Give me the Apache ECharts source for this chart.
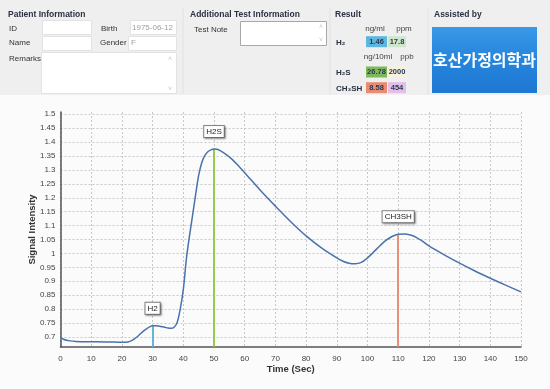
<!DOCTYPE html>
<html>
<head>
<meta charset="utf-8">
<script src="https://cdn.jsdelivr.net/npm/echarts@6/dist/echarts.min.js"></script>
<style>
html,body{margin:0;padding:0;background:#f7f7f7;}
#c{width:550px;height:389px;}
</style>
</head>
<body>
<div id="c"></div>
<script>
// ---- data ----
var timeSec = [0,1,2,3,5,8,12,16,20,22,23,24,25,26,27,28,29,30,31,32,33,34,35,36,37,38,39,40,41,42,43,44,45,46,47,48,49,50,51,52,54,56,58,60,65,70,75,80,85,90,92,94,96,98,100,102,104,106,108,110,112,114,116,118,120,125,130,135,140,145,150];
var signal = [0.698,0.692,0.688,0.686,0.684,0.683,0.683,0.682,0.681,0.682,0.686,0.692,0.701,0.711,0.721,0.729,0.736,0.740,0.740,0.739,0.737,0.735,0.732,0.731,0.735,0.752,0.800,0.870,0.980,1.062,1.135,1.210,1.280,1.326,1.351,1.365,1.372,1.375,1.374,1.369,1.355,1.337,1.314,1.290,1.228,1.170,1.114,1.063,1.020,0.984,0.972,0.965,0.963,0.968,0.984,1.005,1.027,1.047,1.061,1.069,1.070,1.066,1.057,1.043,1.027,0.995,0.965,0.937,0.911,0.886,0.862];
var peakNames = ['H2','H2S','CH3SH'];
var peakTimes = [30,50,110];
var peakValues = [0.740,1.375,1.069];
var peakColors = ['#5aaed6','#8cc63f','#e8856d'];
var yTicks = [0.7,0.75,0.8,0.85,0.9,0.95,1,1.05,1.1,1.15,1.2,1.25,1.3,1.35,1.4,1.45,1.5];
var yMin = 0.664, yMax = 1.508;

// header data
var resultRows = [
  {name:'H₂', v1:'1.46', v2:'17.8', c1:'#5cb6de', c2:'#cfe6cc'},
  {name:'H₂S', v1:'26.78', v2:'2000', c1:'#7fba59', c2:'#f8f1dc'},
  {name:'CH₃SH', v1:'8.58', v2:'454', c1:'#ea8a6f', c2:'#e4bde9'}
];

var F = "'Liberation Sans',Arial,sans-serif";

function txt(x,y,s,opt){
  opt = opt||{};
  return {type:'text', x:x, y:y, silent:true, style:{text:s, fill:opt.fill||'#333', font:(opt.bold?'bold ':'')+(opt.size||8)+'px '+(opt.family||F), textAlign:opt.align||'left', textVerticalAlign:'middle'}};
}
function box(x,y,w,h,fill,stroke){
  return {type:'rect', silent:true, shape:{x:x,y:y,width:w,height:h}, style:{fill:fill, stroke:stroke||'none', lineWidth:1}};
}

var g = [];
g.push(box(0,0,550,95,'#efefef'));
g.push(box(0,95,550,294,'#fbfbfb'));
// section separators
g.push({type:'line',silent:true,shape:{x1:183,y1:8,x2:183,y2:94},style:{stroke:'#e2e2e2'}});
g.push({type:'line',silent:true,shape:{x1:330,y1:8,x2:330,y2:94},style:{stroke:'#e2e2e2'}});
g.push({type:'line',silent:true,shape:{x1:428,y1:8,x2:428,y2:94},style:{stroke:'#e2e2e2'}});
// patient info
g.push(txt(8,15,'Patient Information',{bold:true,size:8.5,fill:'#2a3140'}));
g.push(txt(9,29,'ID'));
g.push(txt(9,43,'Name'));
g.push(txt(9,59,'Remarks'));
g.push(txt(101,29,'Birth'));
g.push(txt(100,43,'Gender'));
g.push(box(42.5,20.5,49,14,'#ffffff','#e3e3e3'));
g.push(box(42.5,36.5,49,14,'#ffffff','#e3e3e3'));
g.push(box(130.5,20.5,46,14,'#ffffff','#e3e3e3'));
g.push(box(128.5,36.5,48,14,'#ffffff','#e3e3e3'));
g.push(box(41.5,52.5,135,41,'#ffffff','#e3e3e3'));
g.push(txt(132,28,'1975-06-12',{fill:'#a0a0a0'}));
g.push(txt(131,43,'F',{fill:'#a0a0a0'}));
g.push(txt(170,59,'˄',{fill:'#c8c8c8',size:7,align:'center'}));
g.push(txt(170,89,'˅',{fill:'#c8c8c8',size:7,align:'center'}));
// additional
g.push(txt(190,15,'Additional Test Information',{bold:true,size:8.5,fill:'#2a3140'}));
g.push(txt(194,30,'Test Note'));
g.push(box(240.5,21.5,86,24,'#ffffff','#a8a8a8'));
g.push(txt(321,27,'˄',{fill:'#c8c8c8',size:7,align:'center'}));
g.push(txt(321,40,'˅',{fill:'#c8c8c8',size:7,align:'center'}));
// result
g.push(txt(335,15,'Result',{bold:true,size:8.5,fill:'#2a3140'}));
g.push(txt(375,29,'ng/ml',{align:'center',fill:'#444'}));
g.push(txt(404,29,'ppm',{align:'center',fill:'#444'}));
g.push(txt(378,57,'ng/10ml',{align:'center',fill:'#444'}));
g.push(txt(407,57,'ppb',{align:'center',fill:'#444'}));
var rowY = [41.7,72,87.7];
resultRows.forEach(function(r,i){
  var y = rowY[i];
  g.push(txt(336,y+1,r.name,{bold:true,size:8,fill:'#2a3140'}));
  g.push(box(366,y-5.5,21,11,r.c1));
  g.push(box(388,y-5.5,18,11,r.c2));
  g.push(txt(376.5,y,r.v1,{align:'center',bold:true,size:7.5,fill:'#2b3a55'}));
  g.push(txt(397,y,r.v2,{align:'center',bold:true,size:7.5,fill:'#2b3a55'}));
});
// assisted
g.push(txt(434,15,'Assisted by',{bold:true,size:8.5,fill:'#2a3140'}));
g.push({type:'rect',silent:true,shape:{x:432,y:27,width:105,height:66},style:{fill:new echarts.graphic.LinearGradient(0,0,0,1,[{offset:0,color:'#3a98e6'},{offset:0.5,color:'#2585dc'},{offset:1,color:'#1e78d2'}])}});
g.push(txt(484.5,60,'호산가정의학과',{align:'center',bold:true,size:16,fill:'#ffffff',family:"'Noto Sans CJK KR',sans-serif"}));

var lineData = timeSec.map(function(t,i){return [t, signal[i]];});
var markLines = peakTimes.map(function(t,i){
  return [{coord:[t,yMin], lineStyle:{color:peakColors[i]}}, {coord:[t,peakValues[i]]}];
});
var markPoints = peakTimes.map(function(t,i){
  return {coord:[t,peakValues[i]], value:peakNames[i], name:peakNames[i]};
});

var chart = echarts.init(document.getElementById('c'), null, {renderer:'canvas'});
chart.setOption({
  animation:false,
  backgroundColor:'transparent',
  graphic:{elements:g},
  grid:{left:60.5, right:29, top:112, bottom:42, show:true, backgroundColor:'#ffffff', borderColor:'#8a8a8a', borderWidth:1},
  xAxis:{
    type:'value', min:0, max:150, interval:10,
    name:'Time (Sec)', nameLocation:'middle', nameGap:17, nameMoveOverlap:false,
    nameTextStyle:{fontFamily:F,fontWeight:'bold',fontSize:9.5,color:'#333'},
    axisLine:{lineStyle:{color:'#555',width:1.5}},
    axisTick:{show:false},
    axisLabel:{fontFamily:F,fontSize:8,color:'#444',margin:8},
    splitLine:{show:true,lineStyle:{color:'#c8c8c8',type:[2,2],width:1}}
  },
  yAxis:{
    type:'value', min:yMin, max:yMax,
    name:'Signal Intensity', nameLocation:'middle', nameGap:23, nameMoveOverlap:false,
    nameTextStyle:{fontFamily:F,fontWeight:'bold',fontSize:9.5,color:'#333'},
    axisLine:{show:true,lineStyle:{color:'#555',width:1.5}},
    axisTick:{show:false, customValues:yTicks},
    axisLabel:{fontFamily:F,fontSize:8,color:'#444',margin:5,customValues:yTicks,formatter:function(v){return String(+v.toFixed(2));}},
    splitLine:{show:true,lineStyle:{color:'#c8c8c8',type:[2,2],width:1}}
  },
  series:[{
    type:'line', data:lineData, smooth:0.3, showSymbol:false, symbol:'none',
    lineStyle:{color:'#4a72ad',width:1.5},
    z:3,
    markLine:{silent:true, symbol:'none', label:{show:false}, lineStyle:{type:'solid',width:1.8}, data:markLines, z:2},
    markPoint:{silent:true, symbol:'circle', symbolSize:0, data:markPoints,
      label:{show:true, position:'top', distance:12, formatter:'{b}', fontFamily:F, fontSize:8, color:'#222',
        backgroundColor:'#ffffff', borderColor:'#8a8a8a', borderWidth:1, padding:[2,2,1,2],
        shadowColor:'rgba(0,0,0,0.35)', shadowBlur:2, shadowOffsetX:1, shadowOffsetY:1}}
  }]
});
</script>
</body>
</html>
